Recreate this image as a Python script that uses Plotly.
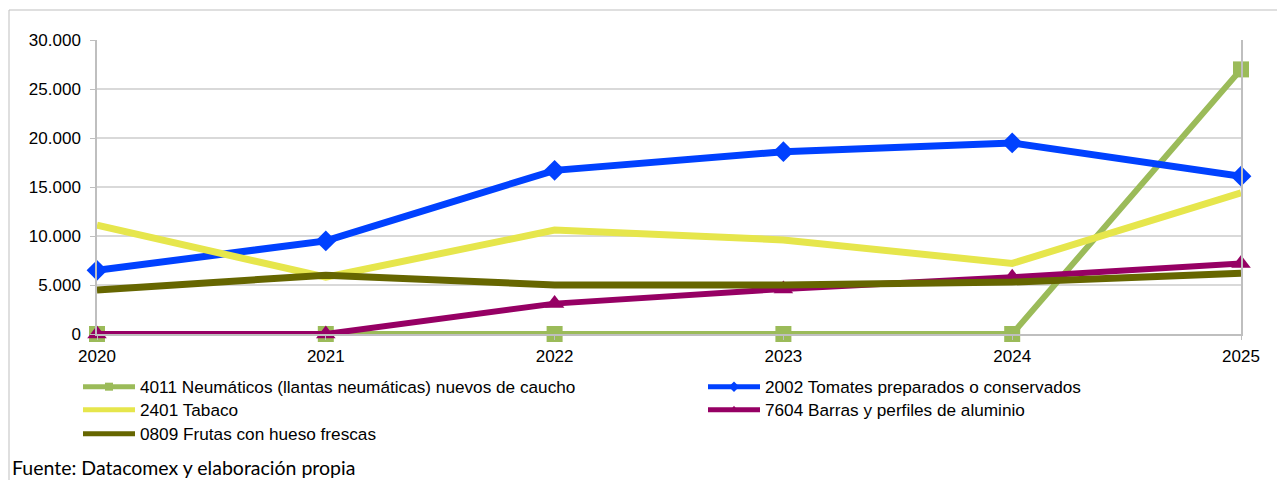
import plotly.graph_objects as go

years = [2020, 2021, 2022, 2023, 2024, 2025]
neumaticos = [0, 0, 0, 0, 0, 27000]
tomates = [6500, 9500, 16700, 18600, 19500, 16100]
tabaco = [11100, 5800, 10600, 9600, 7200, 14400]
aluminio = [0, 0, 3100, 4600, 5800, 7200]
frutas = [4500, 6000, 5000, 5000, 5300, 6200]

names = [
    "4011 Neumáticos (llantas neumáticas) nuevos de caucho",
    "2002 Tomates preparados o conservados",
    "2401 Tabaco",
    "7604 Barras y perfiles de aluminio",
    "0809 Frutas con hueso frescas",
]
ytick_vals = [0, 5000, 10000, 15000, 20000, 25000, 30000]

colors = ["#9bbb59", "#0041ff", "#e6e64c", "#960064", "#666600"]
series = [neumaticos, tomates, tabaco, aluminio, frutas]
symbols = ["square", "diamond", None, "triangle-up", None]
msizes = [16, 16, 0, 17, 0]
widths = [6, 7, 7, 6, 7]
legend_ids = ["legend", "legend3", "legend2", "legend4", "legend5"]

fig = go.Figure()
for i in range(5):
    if symbols[i]:
        fig.add_trace(go.Scatter(x=years, y=series[i], name=names[i], mode="lines+markers",
                                 line=dict(color=colors[i], width=widths[i]),
                                 marker=dict(symbol=symbols[i], size=msizes[i], color=colors[i]),
                                 cliponaxis=False, showlegend=False))
    else:
        fig.add_trace(go.Scatter(x=years, y=series[i], name=names[i], mode="lines",
                                 line=dict(color=colors[i], width=widths[i]),
                                 cliponaxis=False, showlegend=False))

# legend entries (small symbols as in the reference legend)
for i in range(5):
    if symbols[i]:
        fig.add_trace(go.Scatter(x=[None], y=[None], name=names[i], mode="lines+markers",
                                 line=dict(color=colors[i], width=5),
                                 marker=dict(symbol=symbols[i], size=8, color=colors[i]),
                                 legend=legend_ids[i], showlegend=True))
    else:
        fig.add_trace(go.Scatter(x=[None], y=[None], name=names[i], mode="lines",
                                 line=dict(color=colors[i], width=5),
                                 legend=legend_ids[i], showlegend=True))

OFF = 8  # default page body margin
W, H = 1285 - OFF, 480 - OFF
L, T = 97 - OFF, 40 - OFF
R = W - (1241 - OFF)
B = H - (334 - OFF)
pw, ph = W - L - R, H - T - B

def px_x(p):
    return (p - OFF - L) / pw

def px_y(p):
    return (H - B - (p - OFF)) / ph

fig.add_shape(type="rect", xref="paper", yref="paper",
              x0=px_x(9), x1=px_x(1300), y0=px_y(500), y1=px_y(10),
              line=dict(color="#bfbfbf", width=1), layer="below")

fig.add_annotation(text="Fuente: Datacomex y elaboración propia", xref="paper", yref="paper",
                   x=px_x(10), y=px_y(467), xanchor="left", yanchor="middle", showarrow=False,
                   font=dict(family="Lato", size=19.5, color="#000000"))

leg_common = dict(orientation="v", xanchor="left", yanchor="middle", font=dict(size=17.2),
                  tracegroupgap=0, itemwidth=52,
                  bgcolor="rgba(0,0,0,0)", borderwidth=0)
col1_x, col2_x = 78, 703
rows_y = [387, 410, 434]

fig.update_layout(
    width=W, height=H,
    margin=dict(l=L, r=R, t=T, b=B, autoexpand=False),
    paper_bgcolor="white", plot_bgcolor="white",
    separators=",.",
    font=dict(family="Liberation Sans", size=16, color="#000000"),
    showlegend=True,
    legend=dict(x=px_x(col1_x), y=px_y(rows_y[0]), **leg_common),
    legend2=dict(x=px_x(col1_x), y=px_y(rows_y[1]), **leg_common),
    legend5=dict(x=px_x(col1_x), y=px_y(rows_y[2]), **leg_common),
    legend3=dict(x=px_x(col2_x), y=px_y(rows_y[0]), **leg_common),
    legend4=dict(x=px_x(col2_x), y=px_y(rows_y[1]), **leg_common),
    xaxis=dict(range=[2020, 2025], tickvals=years, ticktext=[str(y) for y in years],
               showgrid=False, showline=True, linecolor="#bfbfbf", linewidth=1.5,
               ticks="outside", ticklen=4, tickcolor="#bfbfbf", zeroline=False,
               mirror=False, tickfont=dict(size=17), ticklabelstandoff=2),
    yaxis=dict(range=[0, 30000], tickvals=ytick_vals, tickformat=",d",
               showgrid=True, gridcolor="#d9d9d9", gridwidth=2,
               showline=True, linecolor="#bfbfbf", linewidth=1.5, mirror=True,
               ticks="outside", ticklen=5, tickcolor="#bfbfbf", zeroline=False,
               tickfont=dict(size=17), ticklabelstandoff=6),
)

fig.write_html("out.html")
